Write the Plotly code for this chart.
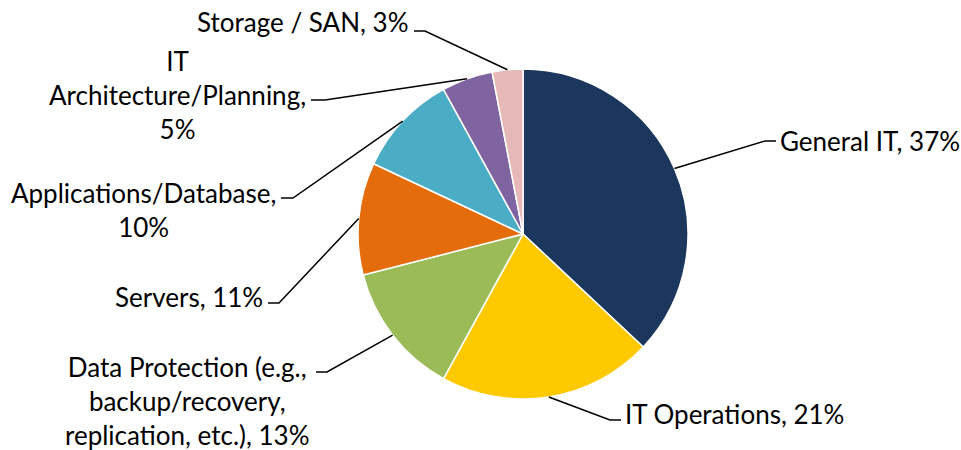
import math
import plotly.graph_objects as go

# Share of respondents by IT role
categories = [
    "General IT",
    "IT Operations",
    "Data Protection (e.g., backup/recovery, replication, etc.)",
    "Servers",
    "Applications/Database",
    "IT Architecture/Planning",
    "Storage / SAN",
]
values = [37, 21, 13, 11, 10, 5, 3]
label_templates = [
    "General IT, {}%",
    "IT Operations, {}%",
    "Data Protection (e.g.,<br>backup/recovery,<br>replication, etc.), {}%",
    "Servers, {}%",
    "Applications/Database,<br>{}%",
    "IT<br>Architecture/Planning,<br>{}%",
    "Storage / SAN, {}%",
]
colors = ["#1B375E", "#FFC900", "#9BBB59", "#E46C0A", "#4BACC6", "#8064A2", "#E6B9B8"]

W, H = 961, 450
CX, CY, R = 523, 234, 165  # pie centre and radius in pixels

# label layout: elbow point of leader (px), end of the short horizontal tick, text anchor point (px)
label_layout = [
    dict(elbow=(765, 141), end=(776, 141), text=(778, 141), side="left"),
    dict(elbow=(610, 420), end=(621, 420), text=(623, 414), side="left"),
    dict(elbow=(327, 372), end=(316, 372), text=(312, 401), side="right"),
    dict(elbow=(279, 303), end=(268, 303), text=(265, 297), side="right"),
    dict(elbow=(293, 198), end=(281, 198), text=(278, 210), side="right"),
    dict(elbow=(325, 100), end=(311, 100), text=(308, 95), side="right"),
    dict(elbow=(425, 31), end=(414, 31), text=(411, 22), side="right"),
]


def px(x):
    return x / W


def py(y):
    return 1 - y / H


fig = go.Figure(
    go.Pie(
        labels=categories,
        values=values,
        sort=False,
        direction="clockwise",
        rotation=0,
        marker=dict(colors=colors, line=dict(color="white", width=1.5)),
        textinfo="none",
        hoverinfo="skip",
        showlegend=False,
        domain=dict(x=[px(CX - R), px(CX + R)], y=[py(CY + R), py(CY - R)]),
    )
)

total = sum(values)
cum = 0
shapes = []
annotations = []
for v, tmpl, lay in zip(values, label_templates, label_layout):
    ang = 2 * math.pi * (cum + v / 2) / total
    cum += v
    sx = CX + R * math.sin(ang)
    sy = CY - R * math.cos(ang)
    ex, ey = lay["elbow"]
    tx, ty = lay["end"]
    shapes.append(dict(
        type="path", xref="paper", yref="paper",
        path=f"M {px(sx)} {py(sy)} L {px(ex)} {py(ey)} L {px(tx)} {py(ty)}",
        line=dict(color="black", width=1.5),
    ))
    ax, ay = lay["text"]
    annotations.append(dict(
        x=px(ax), y=py(ay), xref="paper", yref="paper",
        text=tmpl.format(v), showarrow=False,
        xanchor="left" if lay["side"] == "left" else "right",
        yanchor="middle", align="center",
        font=dict(family="Lato", size=26, color="#000000"),
    ))

fig.update_layout(
    width=W, height=H,
    margin=dict(l=0, r=0, t=0, b=0),
    paper_bgcolor="white",
    plot_bgcolor="white",
    shapes=shapes,
    annotations=annotations,
)

fig.write_html("out.html")
